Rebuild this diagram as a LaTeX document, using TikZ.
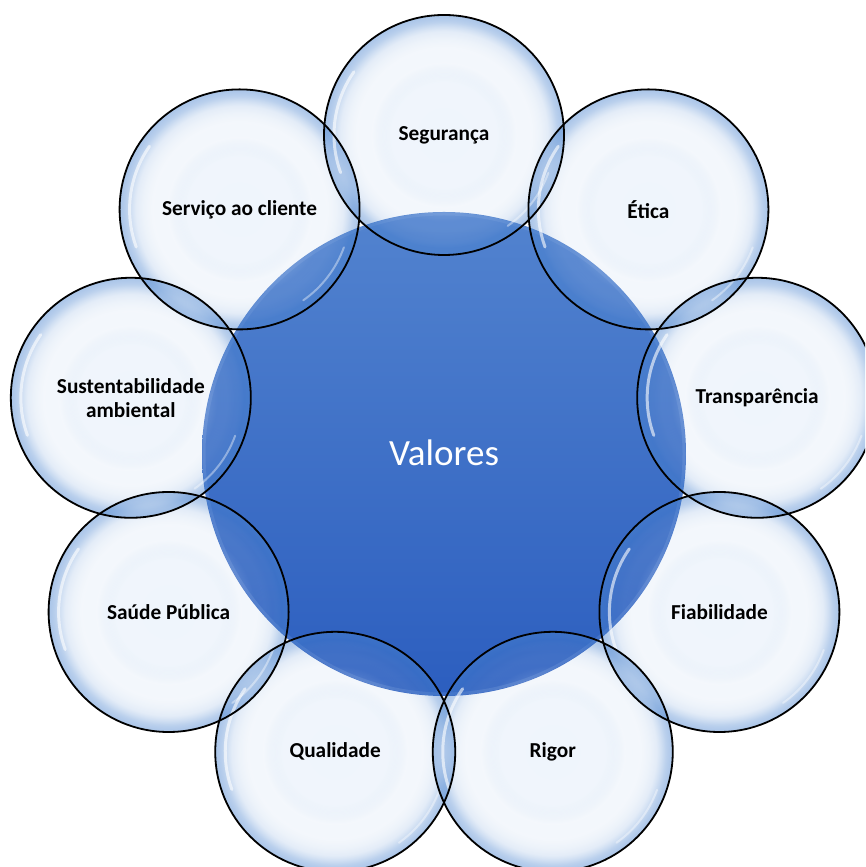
\documentclass[tikz,border=0pt]{standalone}
\usepackage{fontspec}
\setmainfont{Carlito}
\usetikzlibrary{fadings}
\definecolor{coreA}{HTML}{5283CF}
\definecolor{coreB}{HTML}{2C5EBF}
\definecolor{coreRim}{HTML}{8FB0E6}
\definecolor{bubEdge}{HTML}{4A84D0}
\definecolor{bubMid}{HTML}{9CBDE6}
\definecolor{bubIn}{HTML}{EFF5FC}
\pgfdeclareradialshading{bubbleshade}{\pgfpointorigin}{color(0bp)=(bubIn); color(11bp)=(bubIn); color(15bp)=(bubIn!70!bubMid); color(20bp)=(bubMid); color(23.5bp)=(bubEdge); color(25bp)=(bubEdge); color(50bp)=(bubEdge)}
\pgfdeclareradialshading{bubblefadeshade}{\pgfpointorigin}{color(0bp)=(pgftransparent!4); color(11bp)=(pgftransparent!8); color(15bp)=(pgftransparent!74); color(18bp)=(pgftransparent!86); color(21.5bp)=(pgftransparent!80); color(23.8bp)=(pgftransparent!60); color(25bp)=(pgftransparent!52); color(50bp)=(pgftransparent!52)}
\pgfdeclarefading{bubblefade}{\pgfuseshading{bubblefadeshade}}
\tikzset{
  lbl/.style={font=\bfseries\fontsize{21.3}{24}\selectfont, align=center, text=black, inner sep=0pt},
  bubblefill/.style={shading=bubbleshade, path fading=bubblefade},
  bubbleline/.style={draw=black, line width=1.8pt},
  shine/.style={draw=white, opacity=0.6, line width=3pt, line cap=round}
}
\begin{document}
\begin{tikzpicture}[x=1pt,y=1pt]
\useasboundingbox (0,0) rectangle (865,867);
\fill[white] (0,0) rectangle (865,867);
\begin{scope}
\clip (0,0) rectangle (865,867);
% central circle
\shade[top color=coreA, bottom color=coreB] (444,413) circle (242pt);
\draw[coreRim, line width=3pt, opacity=0.2] (444,413) circle (240pt);
% bubbles
\foreach \a in {90,50,...,-230}
  \shade[bubblefill] ({444+318*cos(\a)},{414+318*sin(\a)}) circle (120pt);
\foreach \a in {90,50,...,-230}{
  \draw[shine] ({444+318*cos(\a)+110*cos(145)},{414+318*sin(\a)+110*sin(145)}) arc[start angle=145, end angle=200, radius=110pt];
  \draw[shine, opacity=0.4, line width=2pt] ({444+318*cos(\a)+111*cos(-55)},{414+318*sin(\a)+111*sin(-55)}) arc[start angle=-55, end angle=-20, radius=111pt];
}
\foreach \a in {90,50,...,-230}
  \path[bubbleline] ({444+318*cos(\a)},{414+318*sin(\a)}) circle (120pt);
\end{scope}
% labels
\node[text=white, font=\fontsize{37}{40}\selectfont, inner sep=0pt] (val) at (444,414) {Valores};
\foreach \a/\n/\t in {90/seg/{Segurança}, 50/eti/{Ética}, 10/tra/{Transparência}, -30/fia/{Fiabilidade}, -70/rig/{Rigor}, -110/qua/{Qualidade}, -150/sau/{Saúde Pública}, -190/sus/{Sustentabilidade\\ambiental}, -230/ser/{Serviço ao cliente}}
  \node[lbl] (\n) at ({444+318*cos(\a)},{414+318*sin(\a)}) {\t};
\end{tikzpicture}
\end{document}
